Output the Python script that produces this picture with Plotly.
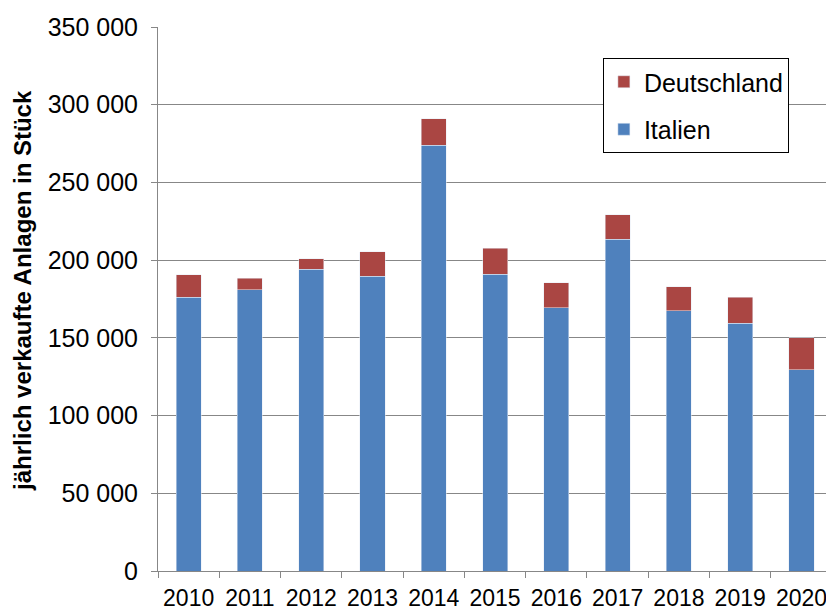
import plotly.graph_objects as go

years = ['2010', '2011', '2012', '2013', '2014', '2015', '2016', '2017', '2018', '2019', '2020']
italien = [176000, 181000, 194000, 189500, 274000, 191000, 169500, 213500, 167500, 159500, 129500]
deutschland = [14500, 7500, 7000, 16000, 17000, 16700, 16000, 15700, 15500, 16700, 20500]

BLUE = '#4F81BD'
RED = '#AA4643'
GRID = '#878787'
FONT = 'Liberation Sans, Arial, sans-serif'

fig = go.Figure()
fig.add_trace(go.Bar(x=years, y=italien, name='Italien', marker_color=BLUE,
                     legendgroup='it', legendrank=2))
fig.add_trace(go.Bar(x=years, y=deutschland, name='Deutschland', marker_color=RED,
                     legendgroup='de', legendrank=1))

fig.update_layout(
    width=826, height=611,
    margin=dict(l=158, r=0, t=27, b=40, autoexpand=False),
    barmode='stack', bargap=0.59,
    plot_bgcolor='white', paper_bgcolor='white',
    separators=', ',
    font=dict(family=FONT, color='black'),
    legend=dict(
        x=0.666, y=0.943, xanchor='left', yanchor='top',
        traceorder='grouped', tracegroupgap=12,
        bordercolor='black', borderwidth=1, bgcolor='white',
        font=dict(size=25, family=FONT),
    ),
    annotations=[dict(
        text='<b>jährlich verkaufte Anlagen in Stück</b>',
        x=-0.202, y=0.515, xref='paper', yref='paper',
        xanchor='center', yanchor='middle',
        textangle=-90, showarrow=False,
        font=dict(size=24, family=FONT),
    )],
)

fig.update_xaxes(
    range=[-0.5, 10.4], tickson='boundaries',
    ticks='outside', ticklen=6, tickcolor=GRID,
    showline=True, linecolor=GRID, linewidth=1,
    showgrid=False, tickfont=dict(size=23, family=FONT),
    ticklabelstandoff=6, automargin=False,
)
fig.update_yaxes(
    range=[0, 350000], dtick=50000, tickformat=',d',
    ticks='outside', ticklen=6, tickcolor=GRID,
    showline=True, linecolor=GRID, linewidth=1,
    showgrid=True, gridcolor=GRID, gridwidth=1.3,
    zeroline=False, tickfont=dict(size=25, family=FONT),
    ticklabelstandoff=8, automargin=False,
)

# drop the default page margin so the chart sits at the window's corner
fig.write_html('out.html', config={'displayModeBar': False},
               post_script="document.body.style.margin='0';")
